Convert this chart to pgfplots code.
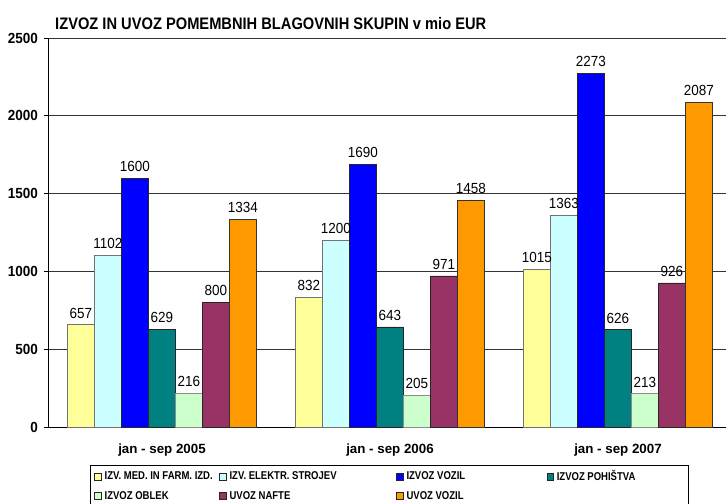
\documentclass[border=0pt]{standalone}
\usepackage{pgfplots}
\pgfplotsset{compat=1.18}
\usepackage{fontspec}
\setmainfont{Liberation Sans}
\newfontfamily\titlefont[FakeStretch=0.88]{Liberation Sans}
\newfontfamily\labfont[FakeStretch=0.92]{Liberation Sans}
\newfontfamily\legfont[FakeStretch=0.84]{Liberation Sans}
\definecolor{cA}{HTML}{FFFF99}
\definecolor{cB}{HTML}{CCFFFF}
\definecolor{cC}{HTML}{0000FF}
\definecolor{cD}{HTML}{008080}
\definecolor{cE}{HTML}{CCFFCC}
\definecolor{cF}{HTML}{993366}
\definecolor{cG}{HTML}{FF9900}
\pgfplotsset{sqlegend/.style={legend image code/.code={\draw[##1,draw=black!85,line width=0.5pt] (0pt,-2.6pt) rectangle (5.2pt,2.6pt);}}}
\begin{document}
\begin{tikzpicture}
\path[use as bounding box] (0,0) rectangle (544.5pt,378pt);
\clip (0,0) rectangle (544.5pt,378pt);
\begin{axis}[
  at={(36pt,57.75pt)}, anchor=south west,
  scale only axis, width=513pt, height=291.75pt,
  ybar=0pt, bar width=20.25pt,
  xmin=-0.5, xmax=2.5, ymin=0, ymax=2500,
  xtick={0,1,2},
  xticklabels={jan - sep 2005, jan - sep 2006, jan - sep 2007},
  major x tick style={draw=none},
  extra x ticks={-0.5,0.5,1.5,2.5},
  extra x tick labels={},
  extra x tick style={tick style={draw=black, line width=0.6pt}, major tick length=4pt, tick align=outside},
  ytick={0,500,1000,1500,2000,2500},
  axis x line*=bottom, axis y line*=left,
  axis line style={line width=0.7pt, black, -},
  y tick style={black, line width=0.6pt},
  tick align=outside, major tick length=3pt,
  ymajorgrids, grid style={black!80, line width=0.6pt},
  /pgf/number format/assume math mode=true,
  /pgf/number format/1000 sep={},
  yticklabel style={font=\labfont\bfseries\fontsize{11}{13}\selectfont, xshift=-1pt},
  xticklabel style={font=\bfseries\fontsize{10}{12}\selectfont, yshift=-6pt},
  title={IZVOZ IN UVOZ POMEMBNIH BLAGOVNIH SKUPIN v mio EUR},
  title style={at={(0.0102,1.0206)}, anchor=base west, yshift=-6pt, inner sep=0pt, font=\titlefont\bfseries\fontsize{12.5}{14}\selectfont},
  nodes near coords,
  every node near coord/.append style={font=\labfont\fontsize{11}{13}\selectfont, black, yshift=1.2pt},
  clip=false,
  every axis plot/.append style={sqlegend},
  legend columns=4,
  legend cell align=left,
  legend style={at={(0.0614,-0.0977)}, anchor=north west, draw=black, line width=0.6pt,
    font=\legfont\bfseries\fontsize{8.5}{10}\selectfont,
    inner xsep=3pt, inner ysep=2pt, row sep=2.3pt,
    /tikz/every even column/.append style={column sep=0pt}},
]
\addplot[fill=cA, draw=black!55, line width=0.6pt] coordinates {(0,657) (1,832) (2,1015)};
\addlegendentry{\makebox[84pt][l]{IZV. MED. IN FARM. IZD.}}
\addplot[fill=cB, draw=black!55, line width=0.6pt] coordinates {(0,1102) (1,1200) (2,1363)};
\addlegendentry{\makebox[123pt][l]{IZV. ELEKTR. STROJEV}}
\addplot[fill=cC, draw=black!85, line width=0.6pt] coordinates {(0,1600) (1,1690) (2,2273)};
\addlegendentry{\makebox[103pt][l]{IZVOZ VOZIL}}
\addplot[fill=cD, draw=black!85, line width=0.6pt] coordinates {(0,629) (1,643) (2,626)};
\addlegendentry{\makebox[94pt][l]{IZVOZ POHIŠTVA}}
\addplot[fill=cE, draw=black!45, line width=0.6pt] coordinates {(0,216) (1,205) (2,213)};
\addlegendentry{IZVOZ OBLEK}
\addplot[fill=cF, draw=black!85, line width=0.6pt] coordinates {(0,800) (1,971) (2,926)};
\addlegendentry{UVOZ NAFTE}
\addplot[fill=cG, draw=black!80, line width=0.6pt] coordinates {(0,1334) (1,1458) (2,2087)};
\addlegendentry{UVOZ VOZIL}
\end{axis}
\end{tikzpicture}
\end{document}
